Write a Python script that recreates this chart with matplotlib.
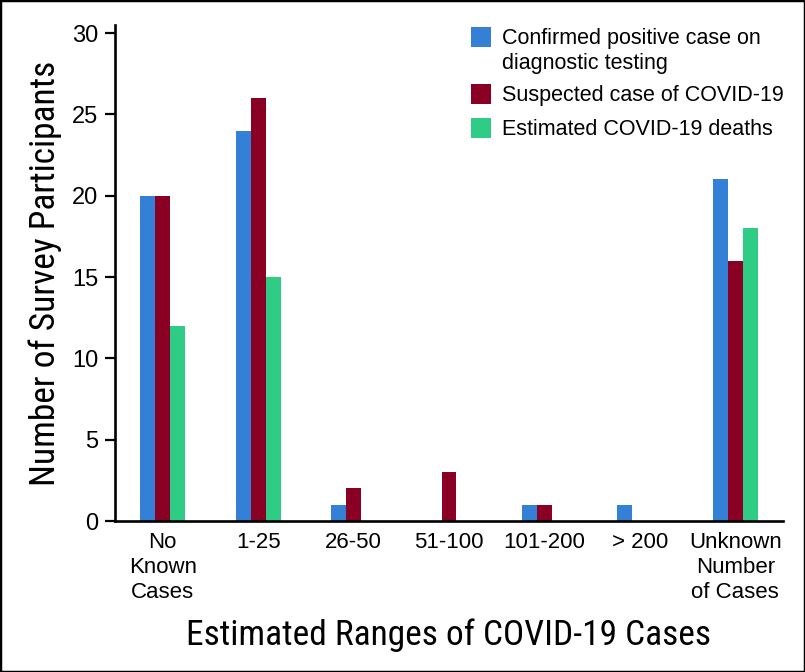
import matplotlib
matplotlib.use("Agg")
import matplotlib.pyplot as plt
import numpy as np
from matplotlib.patches import Rectangle

# ranges of cases and number of participants per answer
categories = ["No\nKnown\nCases", "1-25", "26-50", "51-100", "101-200", "> 200",
              "Unknown\nNumber\nof Cases"]
confirmed = [20, 24, 1, 0, 1, 1, 21]
suspected = [20, 26, 2, 3, 1, 0, 16]
deaths = [12, 15, 0, 0, 0, 0, 18]
series_labels = ["Confirmed positive case on\ndiagnostic testing",
                 "Suspected case of COVID-19",
                 "Estimated COVID-19 deaths"]
colors = ["#3480D6", "#8A0024", "#2ECC85"]

narrow = ["Roboto Condensed", "Liberation Sans", "DejaVu Sans"]
plain = ["Liberation Sans", "DejaVu Sans"]

W, H = 805, 672
fig = plt.figure(figsize=(W / 100, H / 100), dpi=100)
ax = fig.add_axes([115 / W, 1 - 521 / H, (783 - 115) / W, (521 - 25) / H])

x = np.arange(len(categories))
w = 0.157
for i, (vals, col) in enumerate(zip([confirmed, suspected, deaths], colors)):
    ax.bar(x + (i - 1) * w, vals, width=w, color=col)

ax.set_xlim(-0.5, 6.5)
ax.set_ylim(0, 30.5)
ax.set_yticks([0, 5, 10, 15, 20, 25, 30])
ax.set_xticks(x)
ax.set_xticklabels(categories, family=plain, fontsize=16, linespacing=1.25)
for t in ax.get_yticklabels():
    t.set_family(plain)
    t.set_fontsize(17)
ax.tick_params(axis="x", length=0, pad=8)
ax.tick_params(axis="y", length=7, width=1.6, pad=5)

for s in ["top", "right"]:
    ax.spines[s].set_visible(False)
for s in ["left", "bottom"]:
    ax.spines[s].set_linewidth(1.9)

ax.set_ylabel("Number of Survey Participants", family=narrow, fontsize=25.5, labelpad=7)
ax.set_xlabel("Estimated Ranges of COVID-19 Cases", family=narrow, fontsize=25.5, labelpad=11)

# legend drawn by hand: swatch sits level with the first line of its label
sw_left, sw_size, txt_left = 471, 20, 502
sw_tops = [27, 84, 118]
for lab, col, top in zip(series_labels, colors, sw_tops):
    fig.patches.append(Rectangle((sw_left / W, 1 - (top + sw_size) / H), sw_size / W, sw_size / H,
                                 transform=fig.transFigure, facecolor=col, edgecolor="none"))
    fig.text(txt_left / W, 1 - (top + 1) / H, lab, family=plain, fontsize=15.5,
             va="top", ha="left", linespacing=1.22)

# thin frame around the whole picture
fig.patches.append(Rectangle((0, 0), 1, 1, transform=fig.transFigure, fill=False,
                             edgecolor="black", linewidth=2.5))

fig.savefig("out.png", dpi=100)
